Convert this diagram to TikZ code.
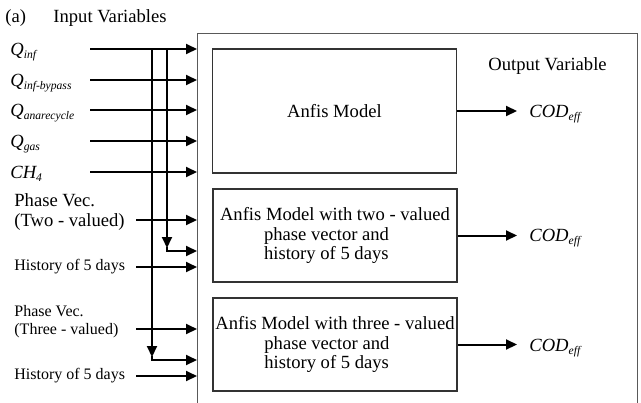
\documentclass[tikz,border=0pt]{standalone}
\usepackage{fontspec}
\setmainfont{Liberation Serif}
\usetikzlibrary{arrows.meta}
\newcommand{\lowsub}[1]{\raisebox{-0.45ex}{\fontsize{5.8}{6}\selectfont #1}}
\tikzset{
  sig/.style={line width=1pt, -{Triangle[length=5.5pt,width=5pt]}},
  lbl/.style={inner sep=0pt, font=\fontsize{9.3}{10}\selectfont},
  small/.style={inner sep=0pt, font=\fontsize{8}{9}\selectfont, align=left},
  model/.style={draw=black!80, line width=0.75pt, minimum width=122pt, minimum height=46.5pt,
    inner sep=0pt, align=left, font=\fontsize{9.3}{9.8}\selectfont}
}
\begin{document}
\begin{tikzpicture}[x=0.5pt,y=-0.5pt]
	\useasboundingbox (0,0) rectangle (641,402);
	% outer frame, open at the bottom of the page
	\node[draw=black!65, line width=0.6pt, anchor=north west, minimum width=220pt,
	  minimum height=200pt, inner sep=0pt] (frame) at (197,33) {};
	\node[lbl, anchor=base west] (title) at (5,22) {(a)\hspace{13.7pt}Input Variables};
	\node[lbl, anchor=base west] (outvar) at (488,70) {Output Variable};
	% models
	\node[model, minimum height=62pt, align=center] (m1) at (334.5,111) {Anfis Model};
	\node[model] (m2) at (335,235.5) {Anfis Model with two - valued\\
	  \hspace*{22pt}phase vector and\\\hspace*{22pt}history of 5 days};
	\node[model] (m3) at (335,344.5) {Anfis Model with three - valued\\
	  \hspace*{24.5pt}phase vector and\\\hspace*{24.5pt}history of 5 days};
	% outputs
	\node[lbl, anchor=base west] (out1) at (529,117) {\textit{COD\lowsub{eff}}};
	\node[lbl, anchor=base west] (out2) at (529,241) {\textit{COD\lowsub{eff}}};
	\node[lbl, anchor=base west] (out3) at (529,351) {\textit{COD\lowsub{eff}}};
	\draw[sig, shorten >=6pt] (m1.east) -- (m1.east -| out1.west);
	\draw[sig, shorten >=6pt] (m2.east) -- (m2.east -| out2.west);
	\draw[sig, shorten >=6pt] (m3.east) -- (m3.east -| out3.west);
	% inputs
	\node[lbl, anchor=base west] (qinf) at (10,55) {\textit{Q\lowsub{inf}}};
	\node[lbl, anchor=base west] (qbyp) at (10,86) {\textit{Q\lowsub{inf-bypass}}};
	\node[lbl, anchor=base west] (qrec) at (10,116) {\textit{Q\lowsub{anarecycle}}};
	\node[lbl, anchor=base west] (qgas) at (10,147) {\textit{Q\lowsub{gas}}};
	\node[lbl, anchor=base west] (ch4) at (10,178) {\textit{CH\lowsub{4}}};
	\node[lbl, anchor=west, align=left] (ph2) at (14,212) {Phase Vec.\\(Two - valued)};
	\node[small, anchor=west] (hist2) at (14,267) {History of 5 days};
	\node[small, anchor=west] (ph3) at (14,322) {Phase Vec.\\(Three - valued)};
	\node[small, anchor=west] (hist3) at (14,376) {History of 5 days};
	\coordinate (r1) at (90,49);
	\coordinate (r2) at (90,80);
	\coordinate (r3) at (90,110);
	\coordinate (r4) at (90,141);
	\coordinate (r5) at (90,172);
	\coordinate (r6) at (136,220);
	\coordinate (r7) at (136,267);
	\coordinate (r8) at (136,329);
	\coordinate (r9) at (136,376);
	\foreach \i in {1,...,9}
		\draw[sig] (r\i) -- (r\i -| frame.west);
	% branches down to the phase models
	\coordinate (t2) at (167,49);
	\coordinate (k2) at (167,251);
	\coordinate (t3) at (152,49);
	\coordinate (k3) at (152,360);
	\draw[sig, shorten >=1.5pt] (t2) -- (k2);
	\draw[sig] ([yshift=2pt]k2) |- (k2 -| frame.west);
	\draw[sig, shorten >=1.5pt] (t3) -- (k3);
	\draw[sig] ([yshift=2pt]k3) |- (k3 -| frame.west);
\end{tikzpicture}
\end{document}
